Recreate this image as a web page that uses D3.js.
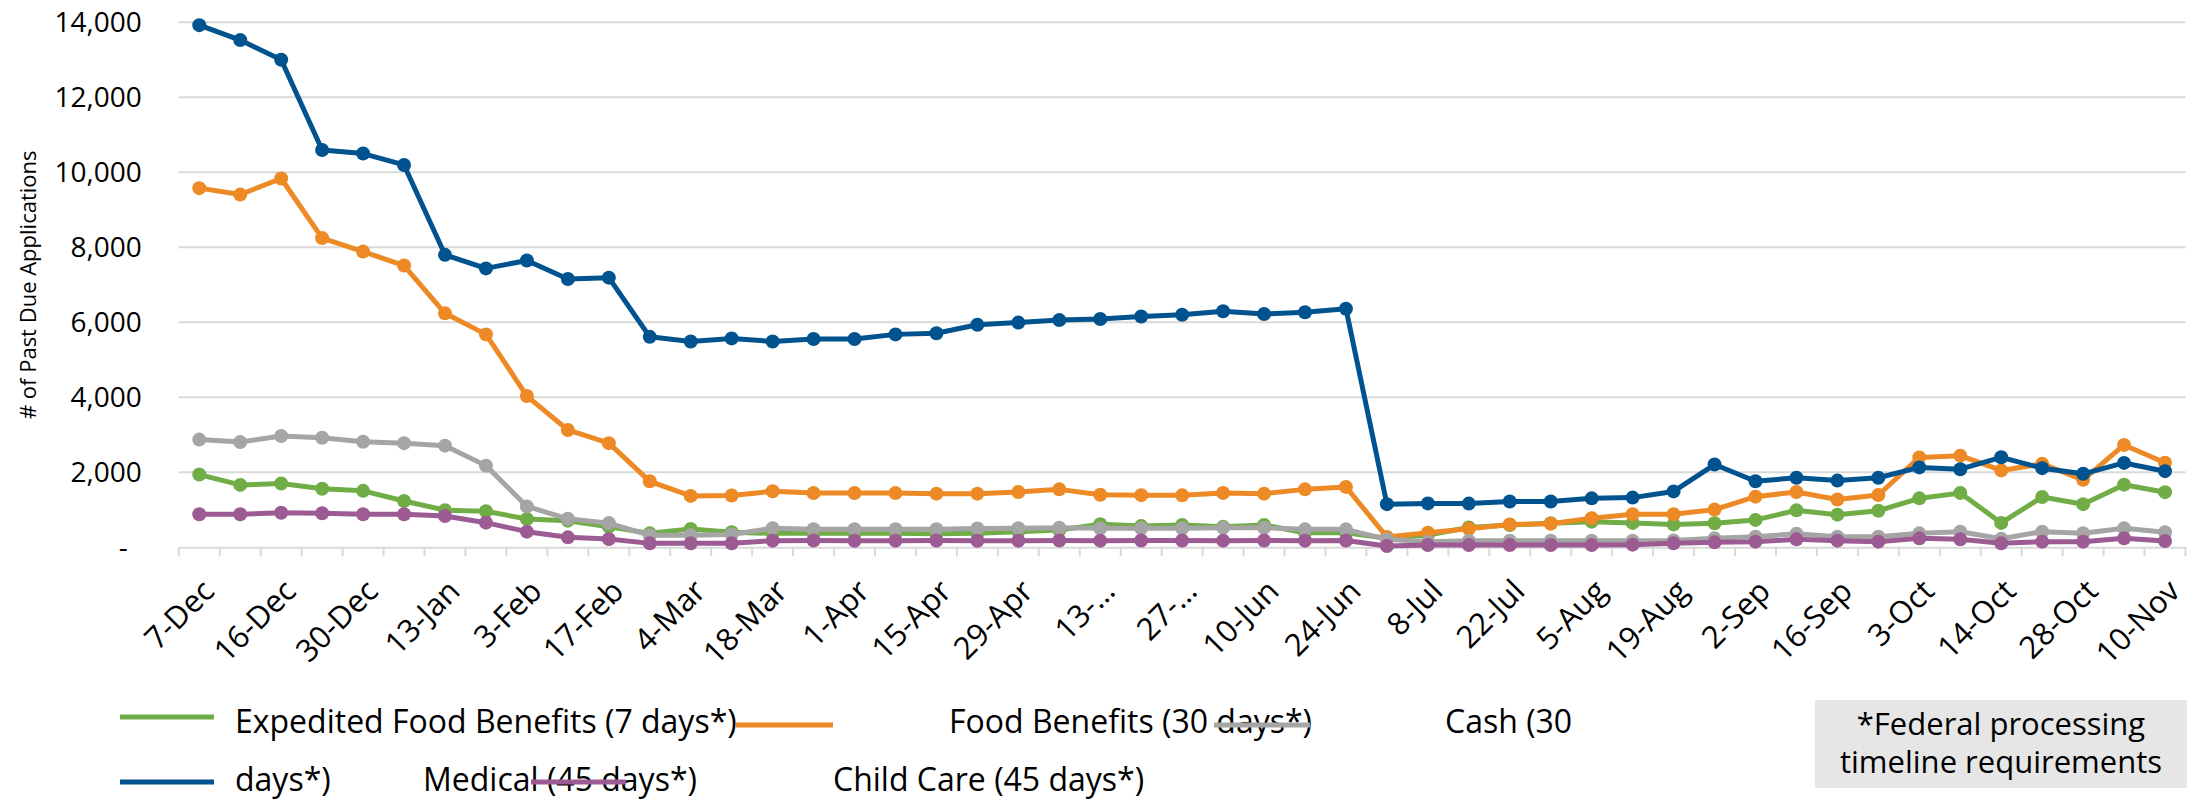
<!DOCTYPE html>
<html>
<head>
<meta charset="utf-8">
<script src="https://cdn.jsdelivr.net/npm/d3@7"></script>
<style>
  html, body { margin: 0; padding: 0; background: #fff; }
  svg { display: block; font-family: "Open Sans", "DejaVu Sans", sans-serif; }
</style>
</head>
<body>
<svg id="chart" width="2187" height="800"></svg>
<script>
// ---------------- DATA ----------------
const categories = ["7-Dec","9-Dec","16-Dec","23-Dec","30-Dec","6-Jan","13-Jan","27-Jan","3-Feb","10-Feb",
  "17-Feb","24-Feb","4-Mar","11-Mar","18-Mar","25-Mar","1-Apr","8-Apr","15-Apr","22-Apr",
  "29-Apr","6-May","13-May","20-May","27-May","3-Jun","10-Jun","17-Jun","24-Jun","1-Jul",
  "8-Jul","15-Jul","22-Jul","29-Jul","5-Aug","12-Aug","19-Aug","26-Aug","2-Sep","9-Sep",
  "16-Sep","23-Sep","3-Oct","7-Oct","14-Oct","21-Oct","28-Oct","4-Nov","10-Nov"];

const tickLabels = ["7-Dec","16-Dec","30-Dec","13-Jan","3-Feb","17-Feb","4-Mar","18-Mar","1-Apr","15-Apr",
  "29-Apr","13-…","27-…","10-Jun","24-Jun","8-Jul","22-Jul","5-Aug","19-Aug","2-Sep",
  "16-Sep","3-Oct","14-Oct","28-Oct","10-Nov"];

const yTicks = [0, 2000, 4000, 6000, 8000, 10000, 12000, 14000];

const expedited = [1940,1664,1700,1560,1505,1236,990,960,755,710,
  550,372,488,400,372,372,372,372,360,372,
  417,462,613,568,595,550,595,390,390,239,
  330,530,595,640,684,650,610,640,730,985,
  870,975,1305,1450,650,1340,1150,1670,1470];

const foodBenefits = [9578,9406,9834,8246,7885,7514,6239,5678,4033,3129,
  2777,1760,1370,1380,1495,1445,1445,1445,1430,1430,
  1475,1545,1400,1390,1385,1450,1430,1545,1610,275,
  390,495,610,630,775,880,880,1005,1350,1475,
  1275,1395,2397,2444,2050,2225,1800,2730,2255];

const cash = [2872,2806,2967,2920,2815,2777,2711,2178,1090,760,
  645,320,320,340,510,480,480,480,480,500,
  510,520,506,506,506,520,520,479,479,212,
  150,177,177,177,177,177,180,239,284,360,
  284,284,372,417,230,417,373,506,400];

const medical = [13924,13525,13002,10595,10500,10196,7799,7438,7647,7153,
  7191,5612,5488,5570,5488,5555,5555,5678,5707,5935,
  5992,6059,6087,6154,6201,6296,6220,6268,6363,1150,
  1170,1165,1220,1220,1305,1325,1490,2207,1760,1855,
  1779,1855,2130,2083,2400,2110,1960,2250,2030];

const childCare = [880,880,923,907,880,880,835,657,417,266,
  221,105,105,105,177,180,175,178,180,176,
  178,180,178,182,180,178,180,178,180,35,
  61,61,61,61,61,70,105,132,150,212,
  177,150,239,212,105,150,150,239,168];

const seriesNames = ["Expedited Food Benefits (7 days*)","Food Benefits (30 days*)","Cash (30 days*)","Medical (45 days*)","Child Care (45 days*)"];
const seriesValues = [expedited, foodBenefits, cash, medical, childCare];
const footnoteLines = ["*Federal processing", "timeline requirements"];
const yAxisTitle = "# of Past Due Applications";

// ---------------- LAYOUT / STYLE ----------------
const colors = ["#70ad47", "#ed8a25", "#a5a5a5", "#00538f", "#9c5b92"];
const svg = d3.select("#chart");
const plot = { left: 178.8, right: 2185.5, top: 22.3, bottom: 547.3 };

const x = d3.scaleBand().domain(categories).range([plot.left, plot.right]).padding(0);
const y = d3.scaleLinear().domain([0, 14000]).range([plot.bottom, plot.top]);
const cx = d => x(d) + x.bandwidth() / 2;

// gridlines
svg.append("g")
  .selectAll("line")
  .data(yTicks.filter(t => t > 0))
  .join("line")
  .attr("x1", plot.left).attr("x2", plot.right)
  .attr("y1", d => y(d)).attr("y2", d => y(d))
  .attr("stroke", "#d9d9d9").attr("stroke-width", 2);

// y axis (labels only)
const yAxis = svg.append("g")
  .attr("transform", `translate(${plot.left},0)`)
  .call(d3.axisLeft(y).tickValues(yTicks).tickSize(0).tickPadding(37)
    .tickFormat(d => d === 0 ? "-" : d3.format(",")(d)));
yAxis.select(".domain").remove();
yAxis.selectAll("text")
  .attr("font-size", 28).attr("fill", "#000")
  .attr("font-family", "Open Sans")
  .attr("dx", d => d === 0 ? -14 : 0);

// y axis title
svg.append("text")
  .attr("transform", `translate(30,${(plot.top + plot.bottom) / 2}) rotate(-90)`)
  .attr("text-anchor", "middle")
  .attr("dominant-baseline", "middle")
  .attr("font-size", 22).attr("fill", "#000")
  .text(yAxisTitle);

// x axis
const xAxis = svg.append("g")
  .attr("transform", `translate(0,${plot.bottom})`)
  .call(d3.axisBottom(x)
    .tickValues(categories.filter((d, i) => i % 2 === 0))
    .tickFormat((d, i) => tickLabels[i])
    .tickSize(0).tickSizeOuter(0));
xAxis.select(".domain").attr("stroke", "#d9d9d9").attr("stroke-width", 2);
xAxis.selectAll("text")
  .attr("font-size", 31).attr("fill", "#000")
  .attr("font-family", "Open Sans")
  .attr("text-anchor", "end")
  .attr("transform", "translate(9,38) rotate(-45)")
  .attr("dy", "0.35em")
  .attr("y", 0).attr("x", 0);

// boundary tick marks
const boundaries = categories.map(c => x(c)).concat([x(categories[categories.length - 1]) + x.bandwidth()]);
svg.append("g")
  .selectAll("line")
  .data(boundaries)
  .join("line")
  .attr("x1", d => d).attr("x2", d => d)
  .attr("y1", plot.bottom).attr("y2", plot.bottom + 9)
  .attr("stroke", "#d9d9d9").attr("stroke-width", 2);

// series
const line = d3.line().x((d, i) => cx(categories[i])).y(d => y(d));
seriesValues.forEach((vals, si) => {
  const g = svg.append("g");
  g.append("path")
    .datum(vals)
    .attr("d", line)
    .attr("fill", "none")
    .attr("stroke", colors[si])
    .attr("stroke-width", 5)
    .attr("stroke-linejoin", "round");
  g.selectAll("circle")
    .data(vals)
    .join("circle")
    .attr("cx", (d, i) => cx(categories[i]))
    .attr("cy", d => y(d))
    .attr("r", 7)
    .attr("fill", colors[si]);
});

// legend (garbled layout as in the reference)
const legendLines = [
  { s: 0, x1: 120, x2: 214, y: 717 },
  { s: 1, x1: 736, x2: 833, y: 725 },
  { s: 3, x1: 120, x2: 214, y: 782 }
];
const legendTexts = [
  { t: seriesNames[0], x: 235, y: 724 },
  { t: "Food Benefits (30 days*)", x: 949, y: 724 },
  { t: "Cash (30", x: 1445, y: 724 },
  { t: "days*)", x: 235, y: 782 },
  { t: seriesNames[3], x: 423, y: 782 },
  { t: seriesNames[4], x: 833, y: 782 }
];
const legendLinesTop = [
  { s: 2, x1: 1214, x2: 1310, y: 725 },
  { s: 4, x1: 531, x2: 626, y: 782 }
];
const lg = svg.append("g");
lg.selectAll("line.a").data(legendLines).join("line").attr("class", "a")
  .attr("x1", d => d.x1).attr("x2", d => d.x2).attr("y1", d => d.y).attr("y2", d => d.y)
  .attr("stroke", d => colors[d.s]).attr("stroke-width", 5);
lg.selectAll("text").data(legendTexts).join("text")
  .attr("x", d => d.x).attr("y", d => d.y)
  .attr("dominant-baseline", "middle")
  .attr("font-size", 32).attr("fill", "#000")
  .text(d => d.t);
lg.selectAll("line.b").data(legendLinesTop).join("line").attr("class", "b")
  .attr("x1", d => d.x1).attr("x2", d => d.x2).attr("y1", d => d.y).attr("y2", d => d.y)
  .attr("stroke", d => colors[d.s]).attr("stroke-width", 5);

// footnote box
const fb = svg.append("g");
fb.append("rect").attr("x", 1815).attr("y", 700).attr("width", 372).attr("height", 88).attr("fill", "#e6e6e6");
fb.selectAll("text").data(footnoteLines).join("text")
  .attr("x", 2001).attr("y", (d, i) => 727 + i * 38)
  .attr("text-anchor", "middle").attr("dominant-baseline", "middle")
  .attr("font-size", 31).attr("fill", "#000")
  .text(d => d);
</script>
</body>
</html>
